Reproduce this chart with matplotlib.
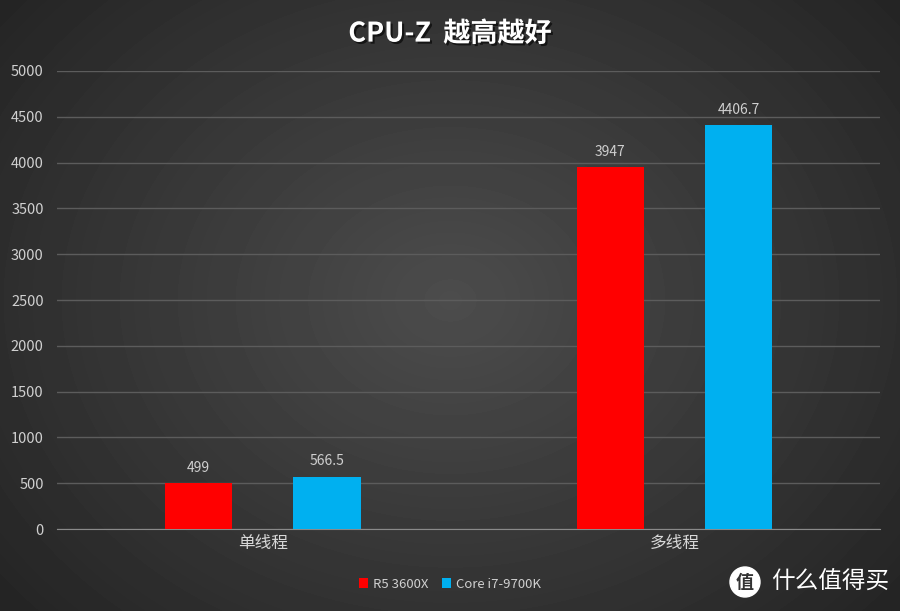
import numpy as np
import matplotlib.pyplot as plt
import matplotlib.patheffects as pe
from matplotlib.patches import Circle

plt.rcParams['font.family'] = ['Noto Sans CJK SC', 'DejaVu Sans']

categories = ['单线程', '多线程']
series_names = ['R5 3600X', 'Core i7-9700K']
r5_values = [499, 3947]
i7_values = [566.5, 4406.7]
value_labels = [['499', '3947'], ['566.5', '4406.7']]
colors = ['#ff0000', '#00b0f0']

fig = plt.figure(figsize=(9, 6.11), dpi=100)

# radial gradient background
bg = fig.add_axes([0, 0, 1, 1], zorder=-10)
yy, xx = np.mgrid[0:611, 0:900]
r = np.sqrt(((xx - 450) / 520.0) ** 2 + ((yy - 300) / 420.0) ** 2)
shade = np.clip(0.30 - 0.14 * r, 0.13, 0.30)
bg.imshow(shade, cmap='gray', vmin=0, vmax=1, aspect='auto', extent=[0, 1, 0, 1])
bg.axis('off')

ax = fig.add_axes([0.0633, 0.1342, 0.9147, 0.7496])
ax.patch.set_alpha(0)

x = np.arange(len(categories))
w = 0.163
off = 0.156
b1 = ax.bar(x - off, r5_values, w, color=colors[0], label=series_names[0], zorder=3)
b2 = ax.bar(x + off, i7_values, w, color=colors[1], label=series_names[1], zorder=3)

for bars, labs in zip([b1, b2], value_labels):
    for rect, lab in zip(bars, labs):
        ax.text(rect.get_x() + rect.get_width() / 2, rect.get_height() + 95, lab,
                ha='center', va='bottom', color='#cfcfcf', fontsize=10)

ax.set_xlim(-0.5, 1.5)
ax.set_ylim(0, 5000)
ax.set_yticks(np.arange(0, 5001, 500))
ax.yaxis.grid(True, color='#5c5c5c', linewidth=1)
ax.set_axisbelow(True)
ax.tick_params(axis='y', length=0, colors='#d0d0d0', labelsize=10.5, pad=9.5)
ax.set_xticks(x)
ax.set_xticklabels(categories)
ax.tick_params(axis='x', length=0, colors='#d8d8d8', labelsize=12, pad=4)
for s in ['top', 'right', 'left']:
    ax.spines[s].set_visible(False)
ax.spines['bottom'].set_color('#8a8a8a')

fig.text(0.5, 0.945, 'CPU-Z  越高越好', ha='center', va='center', color='white',
         fontsize=19.5, fontweight='bold',
         path_effects=[pe.withSimplePatchShadow(offset=(1.5, -1.5), shadow_rgbFace='black', alpha=0.6)])

leg = fig.legend(loc='center', bbox_to_anchor=(0.5, 0.044), ncol=2, frameon=False,
                 fontsize=9.5, handlelength=0.7, handleheight=0.7, handletextpad=0.4,
                 columnspacing=1.0, labelcolor='#d0d0d0')

# watermark
wm = fig.add_axes([0, 0, 1, 1], zorder=5)
wm.set_xlim(0, 900)
wm.set_ylim(611, 0)
wm.axis('off')
wm.add_patch(Circle((745, 582), 15, color='white'))
wm.text(745, 583, '值', ha='center', va='center', fontsize=13, fontweight='bold', color='#333333')
wm.text(771, 582, '什么值得买', ha='left', va='center', fontsize=17, color='white')

fig.savefig('out.png', dpi=100)
